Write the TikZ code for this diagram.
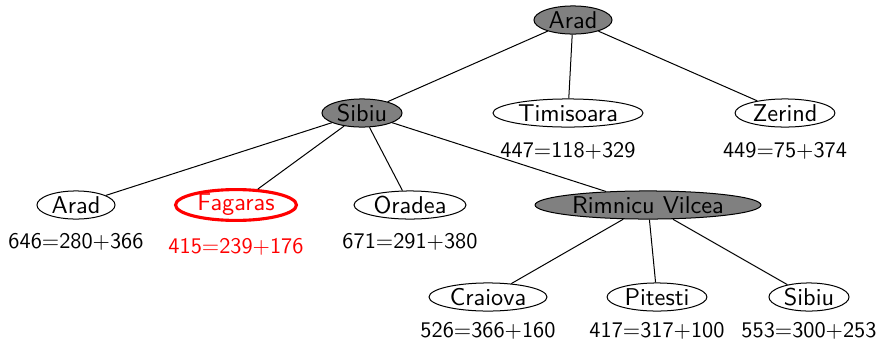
\documentclass[tikz,border=0pt]{standalone}
\usetikzlibrary{shapes.geometric}
\begin{document}
\begin{tikzpicture}[x=0.4484pt,y=-0.4484pt,
  font=\sffamily,
  city/.style={draw,ellipse,inner sep=0pt,minimum height=12.6pt,line width=0.45pt,font=\sffamily\fontsize{10.9}{13}\selectfont},
  expanded/.style={city,fill=gray},
  chosen/.style={city,draw=red,text=red,line width=1.4pt},
  cost/.style={inner sep=0pt},
  edge/.style={line width=0.45pt}]
\useasboundingbox (0,0) rectangle (879,339);
\node[expanded,minimum width=35pt] (arad) at (573,20) {Arad};
\node[expanded,minimum width=35.9pt] (sibiu) at (362,113) {Sibiu};
\node[city,minimum width=67.3pt] (timisoara) at (568,113) {Timisoara};
\node[city,minimum width=44.8pt] (zerind) at (785,113) {Zerind};
\node[cost] (ct) at (568,151) {447=118+329};
\node[cost] (cz) at (785,151) {449=75+374};
\node[city,minimum width=35pt] (arad2) at (76,205) {Arad};
\node[chosen,minimum width=54.2pt] (fagaras) at (236,205) {Fagaras};
\node[city,minimum width=50.2pt] (oradea) at (410,205) {Oradea};
\node[expanded,minimum width=101.3pt] (rimnicu) at (648,205) {Rimnicu Vilcea};
\node[cost] (ca) at (76,242) {646=280+366};
\node[cost,text=red] (cf) at (236,247) {415=239+176};
\node[cost] (co) at (410,242) {671=291+380};
\node[city,minimum width=52.9pt] (craiova) at (488,297) {Craiova};
\node[city,minimum width=44.8pt] (pitesti) at (657,297) {Pitesti};
\node[city,minimum width=35.9pt] (sibiu2) at (809,297) {Sibiu};
\node[cost] (cc) at (488,331) {526=366+160};
\node[cost] (cp) at (657,331) {417=317+100};
\node[cost] (cs) at (809,331) {553=300+253};
\draw[edge] (arad) -- (sibiu);
\draw[edge] (arad) -- (timisoara);
\draw[edge] (arad) -- (zerind);
\draw[edge] (sibiu) -- (arad2);
\draw[edge] (sibiu) -- (fagaras);
\draw[edge] (sibiu) -- (oradea);
\draw[edge] (sibiu) -- (rimnicu);
\draw[edge] (rimnicu) -- (craiova);
\draw[edge] (rimnicu) -- (pitesti);
\draw[edge] (rimnicu) -- (sibiu2);
\end{tikzpicture}
\end{document}
